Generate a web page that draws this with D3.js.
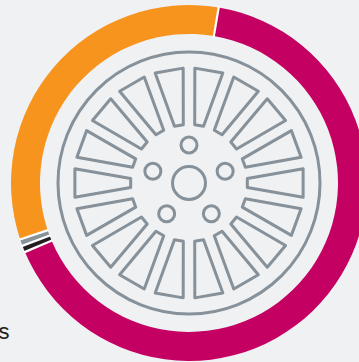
<!DOCTYPE html>
<html>
<head>
<meta charset="utf-8">
<script src="https://cdnjs.cloudflare.com/ajax/libs/d3/7.8.5/d3.min.js"></script>
<style>
  html, body { margin: 0; padding: 0; background: #eff1f3; overflow: hidden; }
  svg { display: block; }
  text { font-family: "Liberation Sans", Arial, sans-serif; fill: #231f20; }
</style>
</head>
<body>
<svg id="chart" width="359" height="362"></svg>
<script>
// Ring shares, clockwise from the rim's start angle
const shareNames = ["Magenta", "Black", "Grey", "Orange"];
const shareValues = [66.0, 0.6, 0.6, 32.8];
const shareColors = ["#c40062", "#231f20", "#87919a", "#f7941e"];

// Wheel artwork inside the ring
const spokeCount = 18;
const boltCount = 5;

const width = 359, height = 362;
const cx = 189, cy = 183;
const outerR = 178, innerR = 149;
const deg = Math.PI / 180;
const rimStart = 9.6 * deg;
const steel = "#87919a";

const svg = d3.select("#chart");
const root = svg.append("g").attr("transform", `translate(${cx},${cy})`);

const pie = d3.pie().sort(null)
  .startAngle(rimStart)
  .endAngle(rimStart + 2 * Math.PI);
const arc = d3.arc().innerRadius(innerR).outerRadius(outerR);

root.append("g").selectAll("path")
  .data(pie(shareValues))
  .join("path")
  .attr("d", arc)
  .attr("fill", (d, i) => shareColors[i]);

// Thin white separators between neighbouring shares
root.append("g").selectAll("line")
  .data(pie(shareValues))
  .join("line")
  .attr("x1", d => (innerR - 1) * Math.sin(d.startAngle))
  .attr("y1", d => -(innerR - 1) * Math.cos(d.startAngle))
  .attr("x2", d => (outerR + 1) * Math.sin(d.startAngle))
  .attr("y2", d => -(outerR + 1) * Math.cos(d.startAngle))
  .attr("stroke", "#ffffff")
  .attr("stroke-width", 2.2);

const wheel = root.append("g")
  .attr("fill", "none")
  .attr("stroke", steel)
  .attr("stroke-width", 3)
  .attr("stroke-linejoin", "round");

wheel.append("circle").attr("r", 131);
wheel.append("circle").attr("r", 16.5);

// Spokes are tapered quadrilaterals laid out evenly around the hub
const spokeAngle = d3.scaleLinear().domain([0, spokeCount]).range([10 * deg, 370 * deg]);
const spokeOutline = d3.lineRadial()
  .angle(d => d[0]).radius(d => d[1])
  .curve(d3.curveLinearClosed);

wheel.append("g").selectAll("path")
  .data(d3.range(spokeCount))
  .join("path")
  .attr("d", i => {
    const a = spokeAngle(i);
    return spokeOutline([
      [a - 7.1 * deg, 115],
      [a + 7.1 * deg, 115],
      [a + 4.4 * deg, 58.5],
      [a - 4.4 * deg, 58.5]
    ]);
  });

const boltAngle = d3.scaleLinear().domain([0, boltCount]).range([0, 2 * Math.PI]);
wheel.append("g").selectAll("circle")
  .data(d3.range(boltCount))
  .join("circle")
  .attr("cx", i => 38 * Math.sin(boltAngle(i)))
  .attr("cy", i => -38 * Math.cos(boltAngle(i)))
  .attr("r", 8);

svg.append("text")
  .attr("x", 9.5).attr("y", 339)
  .attr("text-anchor", "end")
  .attr("font-size", 22)
  .text("s");
</script>
</body>
</html>
